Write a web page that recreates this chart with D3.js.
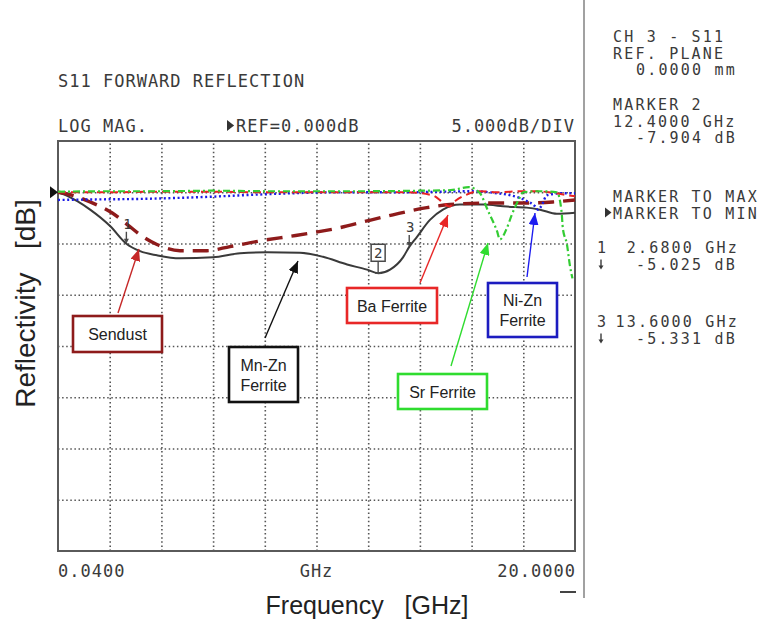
<!DOCTYPE html>
<html>
<head>
<meta charset="utf-8">
<script src="https://cdn.jsdelivr.net/npm/d3@7"></script>
<style>
  html, body { margin: 0; padding: 0; background: #fff; }
  svg { display: block; }
  .mono { font-family: "DejaVu Sans Mono", monospace; font-size: 17px; letter-spacing: 1px; fill: #3a3a3a; }
  .panel { font-family: "DejaVu Sans Mono", monospace; font-size: 15px; letter-spacing: 2.2px; fill: #3a3a3a; }
  .sans { font-family: "Liberation Sans", Arial, sans-serif; fill: #222; }
</style>
</head>
<body>
<svg id="chart" width="760" height="622"></svg>
<script>
// ---- Sweep settings (S11, log magnitude) ----
const freqStart = 0.04;      // GHz
const freqStop = 20;         // GHz
const refLevel = 0;          // dB
const dbPerDiv = 5;          // dB / division
const refPlane = 0;          // mm

// ---- Traces: frequency (GHz) and reflectivity (dB) ----
const mnZnFreq = [0.04, 0.31, 0.8, 1.28, 2.05, 2.68, 3.21, 3.86, 4.75, 6.02, 7.07, 8.11, 9.38, 10.27, 11.2, 11.97, 12.4, 12.86, 13.36, 13.6, 13.9, 14.4, 14.9, 15.56, 16.45, 17.37, 18.14, 18.65, 19.3, 20.0];
const mnZnDb   = [0, -0.25, -0.9, -1.7, -3.3, -5.025, -5.75, -6.15, -6.45, -6.35, -5.95, -5.85, -5.9, -6.3, -7.05, -7.55, -7.904, -7.55, -6.35, -5.331, -4.35, -2.7, -1.7, -1.2, -1.2, -1.4, -1.5, -1.7, -2.1, -2.0];

const sendustFreq = [0.04, 0.6, 1.28, 2.12, 2.74, 3.21, 3.86, 4.75, 5.79, 6.68, 7.95, 9.0, 9.88, 10.93, 11.97, 12.97, 14.28, 15.17, 16.6, 17.87, 19.14, 20.0];
const sendustDb   = [0, -0.3, -0.95, -2.0, -3.2, -4.15, -5.1, -5.7, -5.7, -5.3, -4.7, -4.3, -3.95, -3.45, -2.8, -2.2, -1.5, -1.2, -1.05, -1.05, -0.95, -0.75];

const baFreq = [0.04, 2, 4, 6, 8, 10, 12, 13.5, 14.5, 14.9, 15.15, 15.4, 15.8, 16.3, 17, 18, 18.5, 19, 19.5, 20];
const baDb   = [0, 0, 0.05, 0.05, 0, 0, 0, 0, -0.3, -1.0, -1.4, -0.8, -0.25, 0.1, 0, 0.1, 0.1, 0, -0.2, -0.4];

const niZnFreq = [0.04, 1.5, 3.2, 5.8, 8.3, 10.9, 13.5, 16.06, 17.0, 17.6, 18.14, 18.45, 18.57, 18.72, 18.91, 19.5, 20.0];
const niZnDb   = [-0.75, -0.7, -0.65, -0.45, -0.17, 0, 0, 0.1, -0.1, -0.35, -0.85, -1.35, -1.7, -1.25, -0.3, -0.1, -0.1];

const srFreq = [0.04, 2, 4, 6, 8, 10, 12, 14, 15.2, 15.9, 16.33, 16.64, 16.99, 17.1, 17.37, 17.56, 17.76, 17.87, 18.0, 18.6, 19.3, 19.48, 19.53, 19.69, 19.8, 19.9];
const srDb   = [0.05, 0.1, 0.1, 0.15, 0.1, 0.1, 0.1, 0.15, 0.2, 0.5, -0.1, -1.8, -3.8, -4.6, -3.5, -2.2, -1.05, -0.5, 0, 0.1, 0, -1.85, -3.5, -5.1, -7.1, -8.4];

// ---- Markers ----
const markerIds  = [1, 2, 3];
const markerFreq = [2.68, 12.4, 13.6];
const markerDb   = [-5.025, -7.904, -5.331];
const activeMarker = 2;

// ---- Layout ----
const svg = d3.select("#chart");
const frame = { left: 58, right: 575, top: 141, bottom: 551 };
const nDivX = 10, nDivY = 8;

const x = d3.scaleLinear().domain([freqStart, freqStop]).range([frame.left, frame.right]);
const y = d3.scaleLinear()
  .domain([refLevel + dbPerDiv, refLevel - (nDivY - 1) * dbPerDiv])
  .range([frame.top, frame.bottom]);

const W = frame.right - frame.left, H = frame.bottom - frame.top;

// Graticule drawn with axes
const gridFreqs = d3.range(1, nDivX).map(i => freqStart + i * (freqStop - freqStart) / nDivX);
const gridDbs = d3.range(1, nDivY).map(j => refLevel + dbPerDiv - j * dbPerDiv);

const gx = svg.append("g")
  .attr("transform", `translate(0,${frame.bottom})`)
  .call(d3.axisBottom(x).tickValues(gridFreqs).tickSize(-H).tickFormat(""));
const gy = svg.append("g")
  .attr("transform", `translate(${frame.left},0)`)
  .call(d3.axisLeft(y).tickValues(gridDbs).tickSize(-W).tickFormat(""));
[gx, gy].forEach(g => {
  g.select(".domain").remove();
  g.selectAll(".tick line")
    .attr("stroke", "#555")
    .attr("stroke-width", 1.6)
    .attr("stroke-dasharray", "1.5,2.6");
});

// Frame
svg.append("rect")
  .attr("x", frame.left).attr("y", frame.top)
  .attr("width", W).attr("height", H)
  .attr("fill", "none").attr("stroke", "#5a5a5a").attr("stroke-width", 2);

// Reference-level pointer
const yRef = y(refLevel);
svg.append("path")
  .attr("d", `M${frame.left - 8},${yRef - 6}L${frame.left},${yRef}L${frame.left - 8},${yRef + 6}Z`)
  .attr("fill", "#111");

// Traces
const line = d3.line().x(d => x(d[0])).y(d => y(d[1])).curve(d3.curveMonotoneX);
const zip = (f, v) => f.map((d, i) => [d, v[i]]);
const traces = [
  { f: mnZnFreq,    v: mnZnDb,    color: "#3a3a3a", w: 2,   dash: null },
  { f: sendustFreq, v: sendustDb, color: "#8e1b1b", w: 3.4, dash: "16,9" },
  { f: niZnFreq,    v: niZnDb,    color: "#1a1ae6", w: 2.4, dash: "2,2.6" },
  { f: baFreq,      v: baDb,      color: "#e82222", w: 2,   dash: "8,5" },
  { f: srFreq,      v: srDb,      color: "#33cc33", w: 2.2, dash: "7,3,2,3" }
];
svg.append("g").selectAll("path")
  .data(traces).join("path")
  .attr("d", t => line(zip(t.f, t.v)))
  .attr("fill", "none")
  .attr("stroke", t => t.color)
  .attr("stroke-width", t => t.w)
  .attr("stroke-dasharray", t => t.dash)
  .attr("stroke-linejoin", "round");

// Marker glyphs on the Mn-Zn trace
const mk = svg.append("g").attr("stroke", "#4a4a4a").attr("fill", "#4a4a4a");
markerIds.forEach((id, i) => {
  const px = x(markerFreq[i]), py = y(markerDb[i]);
  if (id === activeMarker) {
    mk.append("rect").attr("x", px - 7).attr("y", py - 29).attr("width", 14).attr("height", 17)
      .attr("fill", "#fff").attr("stroke-width", 1.5);
    mk.append("text").attr("class", "panel").attr("x", px).attr("y", py - 15.5)
      .attr("text-anchor", "middle").attr("stroke", "none")
      .style("font-size", "14px").style("letter-spacing", "0px").text(id);
    mk.append("line").attr("x1", px).attr("x2", px).attr("y1", py - 12).attr("y2", py).attr("stroke-width", 1.4);
    mk.append("line").attr("x1", px - 3).attr("x2", px + 3).attr("y1", py).attr("y2", py).attr("stroke-width", 1.4);
  } else {
    mk.append("text").attr("class", "panel").attr("x", px + 1).attr("y", py - 15)
      .attr("text-anchor", "middle").attr("stroke", "none")
      .style("font-size", "14px").style("letter-spacing", "0px").text(id);
    mk.append("line").attr("x1", px).attr("x2", px).attr("y1", py - 12).attr("y2", py - 3).attr("stroke-width", 1.4);
    mk.append("path").attr("d", `M${px - 2.5},${py - 5}L${px + 2.5},${py - 5}L${px},${py}Z`).attr("stroke", "none");
  }
});

// Trace annotations: boxed names with arrows
const defs = svg.append("defs");
const notes = [
  { lines: ["Sendust"],          border: "#8e1b1b", arrow: "#c62828", box: [73, 316, 89, 36],  tail: [118, 313], tip: [139, 249] },
  { lines: ["Mn-Zn", "Ferrite"], border: "#111111", arrow: "#111111", box: [229, 347, 69, 55], tail: [265, 338], tip: [298, 261] },
  { lines: ["Ba Ferrite"],       border: "#e82727", arrow: "#e82727", box: [347, 288, 90, 35], tail: [420, 283], tip: [448, 215] },
  { lines: ["Ni-Zn", "Ferrite"], border: "#1c1cc0", arrow: "#1c1cf0", box: [488, 283, 69, 54], tail: [527, 277], tip: [535, 213] },
  { lines: ["Sr Ferrite"],       border: "#2fdc2f", arrow: "#2fdc2f", box: [398, 374, 89, 35], tail: [451, 366], tip: [488, 243] }
];
notes.forEach((n, i) => {
  const id = "ah" + i;
  defs.append("marker").attr("id", id)
    .attr("viewBox", "0 0 12 10").attr("refX", 12).attr("refY", 5)
    .attr("markerWidth", 12).attr("markerHeight", 10)
    .attr("markerUnits", "userSpaceOnUse").attr("orient", "auto")
    .append("path").attr("d", "M0,0L12,5L0,10Z").attr("fill", n.arrow);
  svg.append("line")
    .attr("x1", n.tail[0]).attr("y1", n.tail[1]).attr("x2", n.tip[0]).attr("y2", n.tip[1])
    .attr("stroke", n.arrow).attr("stroke-width", 1.4).attr("marker-end", `url(#${id})`);
  const [bx, by, bw, bh] = n.box;
  svg.append("rect").attr("x", bx).attr("y", by).attr("width", bw).attr("height", bh)
    .attr("fill", "#fff").attr("stroke", n.border).attr("stroke-width", 2.6);
  const cy = by + bh / 2, lh = 20;
  n.lines.forEach((t, k) => {
    svg.append("text").attr("class", "sans")
      .attr("x", bx + bw / 2)
      .attr("y", cy + (k - (n.lines.length - 1) / 2) * lh + 6)
      .attr("text-anchor", "middle").style("font-size", "16px").text(t);
  });
});

// Header lines
const textAt = (cls, xx, yy, t, anchor) => svg.append("text").attr("class", cls)
  .attr("x", xx).attr("y", yy).attr("text-anchor", anchor || "start")
  .style("white-space", "pre").text(t);
const mono = (xx, yy, t, anchor) => textAt("mono", xx, yy, t, anchor);
const panel = (xx, yy, t, anchor) => textAt("panel", xx, yy, t, anchor);
const pointer = (xx, yy, s) => svg.append("path")
  .attr("d", `M${xx},${yy - s}L${xx + 0.65 * s},${yy - s / 2}L${xx},${yy}Z`).attr("fill", "#333");

mono(frame.left, 87, "S11 FORWARD REFLECTION");
mono(frame.left, 132, "LOG MAG.");
pointer(227, 131, 11);
mono(236, 132, `REF=${refLevel.toFixed(3)}dB`);
mono(frame.right, 132, `${dbPerDiv.toFixed(3)}dB/DIV`, "end");

// Start / stop annotation
mono(x(freqStart), 577, freqStart.toFixed(4));
mono((frame.left + frame.right) / 2, 577, "GHz", "middle");
mono(x(freqStop) + 1, 577, freqStop.toFixed(4), "end");
svg.append("line").attr("x1", 560).attr("x2", 576).attr("y1", 592).attr("y2", 592)
  .attr("stroke", "#444").attr("stroke-width", 2);

// Right-hand status panel
svg.append("line").attr("x1", 584).attr("x2", 584).attr("y1", 0).attr("y2", 598)
  .attr("stroke", "#8a8a8a").attr("stroke-width", 1.6);
const ai = markerIds.indexOf(activeMarker);
panel(613, 42, "CH 3 - S11");
panel(613, 58.5, "REF. PLANE");
panel(737, 75, `${refPlane.toFixed(4)} mm`, "end");
panel(613, 110, `MARKER ${activeMarker}`);
panel(613, 126.5, `${markerFreq[ai].toFixed(4)} GHz`);
panel(737, 143, `${markerDb[ai].toFixed(3)} dB`, "end");
panel(613, 202, "MARKER TO MAX");
pointer(605, 217.5, 10);
panel(613, 218.5, "MARKER TO MIN");

const downArrow = (xx, yy) => {
  svg.append("line").attr("x1", xx).attr("x2", xx).attr("y1", yy - 10).attr("y2", yy - 3)
    .attr("stroke", "#3a3a3a").attr("stroke-width", 1.4);
  svg.append("path").attr("d", `M${xx - 2.5},${yy - 4}L${xx + 2.5},${yy - 4}L${xx},${yy}Z`).attr("fill", "#3a3a3a");
};
const readoutY = { 1: 253, 3: 327 };
markerIds.filter(id => id !== activeMarker).forEach(id => {
  const i = markerIds.indexOf(id);
  const by = readoutY[id];
  panel(597, by, String(id));
  panel(739, by, `${markerFreq[i].toFixed(4)} GHz`, "end");
  downArrow(601, by + 16.5);
  panel(737, by + 16.5, `${markerDb[i].toFixed(3)} dB`, "end");
});

// Axis titles
svg.append("text").attr("class", "sans")
  .attr("transform", "translate(35,303.5) rotate(-90)")
  .attr("text-anchor", "middle").style("font-size", "28px").style("white-space", "pre")
  .text("Reflectivity   [dB]");
svg.append("text").attr("class", "sans")
  .attr("x", 367).attr("y", 614)
  .attr("text-anchor", "middle").style("font-size", "25px").style("white-space", "pre")
  .text("Frequency   [GHz]");
</script>
</body>
</html>
